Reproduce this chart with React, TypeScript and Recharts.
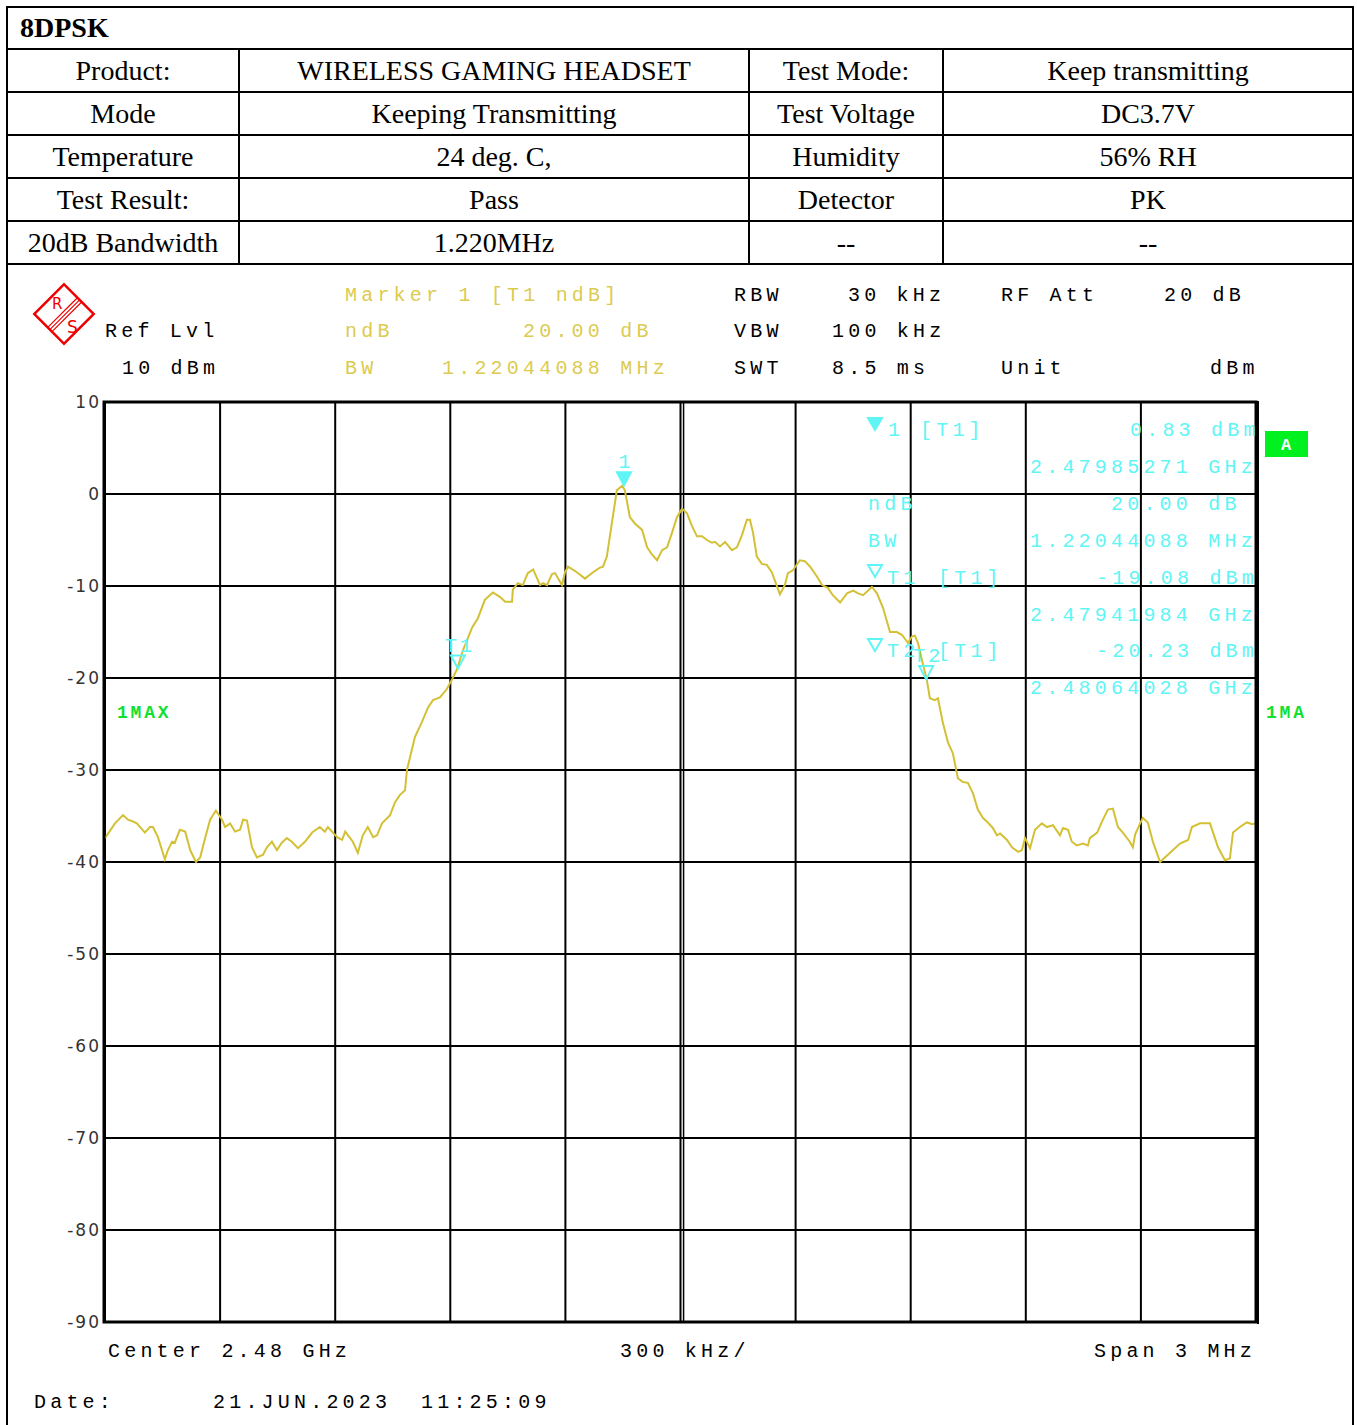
import React from "react";
import {
  ComposedChart,
  Line,
  Scatter,
  XAxis,
  YAxis,
  CartesianGrid,
  ReferenceLine,
} from "recharts";

const freqKHz = [
  -1500, -1474, -1453, -1440, -1427, -1417, -1396, -1383, -1375, -1362, -1344,
  -1336, -1325, -1318, -1305, -1291, -1278, -1263, -1252, -1239, -1226, -1211,
  -1195, -1187, -1174, -1161, -1148, -1140, -1130, -1117, -1104, -1088, -1078,
  -1065, -1052, -1039, -1026, -1013, -997, -979, -960, -940, -927, -919, -895,
  -882, -874, -861, -854, -841, -828, -815, -801, -791, -778, -757, -744, -731,
  -718, -713, -692, -674, -658, -645, -627, -609, -596, -583, -567, -543, -528,
  -510, -489, -470, -457, -439, -437, -424, -411, -398, -384, -366, -358, -348,
  -335, -327, -309, -301, -293, -270, -249, -228, -210, -202, -192, -179, -166,
  -152, -145, -132, -119, -100, -87, -74, -61, -48, -35, -22, -9, 4, 17, 30, 43,
  56, 69, 82, 90, 103, 116, 134, 147, 160, 173, 181, 189, 199, 212, 225, 238,
  252, 259, 272, 280, 293, 311, 324, 338, 356, 369, 384, 397, 416, 434, 450,
  463, 476, 499, 512, 528, 546, 564, 577, 593, 603, 611, 619, 629, 642, 650,
  663, 671, 684, 697, 710, 723, 736, 749, 762, 775, 788, 801, 814, 825, 833,
  851, 864, 880, 890, 898, 911, 924, 942, 955, 971, 989, 997, 1010, 1020, 1033,
  1049, 1062, 1067, 1086, 1101, 1114, 1127, 1140, 1153, 1171, 1179, 1185, 1198,
  1205, 1218, 1232, 1250, 1276, 1302, 1323, 1333, 1354, 1380, 1401, 1419, 1432,
  1440, 1458, 1476, 1490, 1500,
];
const levelDbm = [
  -37.4, -35.8, -34.9, -35.4, -35.6, -35.8, -36.8, -36.2, -36.2, -37.3, -39.7,
  -38.7, -37.8, -37.9, -36.5, -36.7, -38.7, -40.0, -39.5, -37.4, -35.4, -34.4,
  -35.4, -36.2, -35.8, -36.7, -36.5, -35.4, -35.5, -38.4, -39.5, -39.2, -38.4,
  -37.8, -38.7, -37.9, -37.4, -37.8, -38.5, -37.8, -36.8, -36.2, -36.7, -36.2,
  -37.3, -37.6, -36.7, -37.4, -37.8, -39.0, -37.1, -36.2, -37.3, -37.1, -35.8,
  -34.9, -33.5, -32.7, -32.2, -30.0, -26.4, -24.8, -23.2, -22.4, -22.1, -21.2,
  -20.2, -19.1, -17.0, -14.5, -13.5, -11.5, -10.7, -11.2, -11.7, -11.7, -10.4,
  -9.7, -9.9, -8.6, -8.2, -9.9, -9.7, -9.9, -8.7, -8.6, -9.9, -8.5, -7.9, -8.5,
  -9.2, -8.5, -8.0, -7.9, -6.8, -3.2, 0.4, 0.9, 0.4, -2.5, -3.2, -3.9, -5.8,
  -6.6, -7.2, -6.1, -5.8, -4.2, -2.5, -1.6, -2.1, -3.5, -4.6, -4.6, -5.0, -5.3,
  -5.2, -5.7, -5.2, -6.1, -5.8, -4.5, -2.8, -2.8, -4.2, -6.8, -7.6, -7.7, -8.5,
  -10.1, -10.9, -9.9, -8.6, -8.3, -7.2, -7.3, -7.9, -9.0, -9.9, -10.2, -11.0,
  -11.8, -10.8, -10.5, -10.8, -11.0, -10.1, -10.8, -12.4, -15.0, -15.0, -15.3,
  -16.2, -15.5, -15.4, -16.2, -18.0, -20.2, -22.2, -22.4, -22.2, -24.9, -27.0,
  -28.2, -30.9, -31.3, -31.4, -32.5, -34.3, -35.2, -35.7, -36.3, -37.1, -36.9,
  -37.6, -38.4, -38.9, -38.7, -37.4, -38.5, -36.5, -35.8, -36.2, -36.0, -37.1,
  -36.3, -36.5, -37.8, -38.2, -38.0, -38.2, -37.4, -36.8, -35.4, -34.3, -34.2,
  -36.2, -36.8, -37.8, -38.4, -37.0, -35.8, -35.2, -35.7, -37.9, -40.0, -39.0,
  -38.0, -37.6, -36.2, -35.8, -35.8, -38.4, -39.8, -39.6, -36.8, -36.2, -35.7,
  -35.9, -35.8,
];

// markers (kHz from center, dBm)
const markerNames = ["1", "T1", "T2"];
const markerFreqKHz = [-147.29, -580.16, 640.28];
const markerLevelDbm = [0.83, -19.08, -20.23];

const xTicks = [-1500, -1200, -900, -600, -300, 0, 300, 600, 900, 1200, 1500];
const yTicks = [10, 0, -10, -20, -30, -40, -50, -60, -70, -80, -90];

const tableRows = [
  ["Product:", "WIRELESS GAMING HEADSET", "Test Mode:", "Keep transmitting"],
  ["Mode", "Keeping Transmitting", "Test Voltage", "DC3.7V"],
  ["Temperature", "24 deg. C,", "Humidity", "56% RH"],
  ["Test Result:", "Pass", "Detector", "PK"],
  ["20dB Bandwidth", "1.220MHz", "--", "--"],
];
const colWidths = [232, 510, 194, 410];

const traceData = freqKHz.map((f, i) => ({ f, v: levelDbm[i] }));
const markerData = markerNames.map((n, i) => ({
  f: markerFreqKHz[i],
  v: markerLevelDbm[i],
  name: n,
}));

const TRACE = "#d4c035";
const HEAD_YELLOW = "#dccb50";
const CYAN = "#5ff5f5";
const GREEN = "#10e030";
const MONO = "'Liberation Mono', 'DejaVu Sans Mono', monospace";

const MarkerShape = (props: any) => {
  const { cx, cy, payload } = props;
  if (cx == null || cy == null) return null;
  const filled = payload.name === "1";
  const tip = cy - 1;
  return (
    <g>
      <polygon
        points={`${cx - 7},${tip - 13} ${cx + 7},${tip - 13} ${cx},${tip}`}
        fill={filled ? CYAN : "none"}
        stroke={CYAN}
        strokeWidth={2}
      />
      <text
        x={cx + 2}
        y={tip - 17}
        textAnchor="middle"
        fill={CYAN}
        fontFamily={MONO}
        fontSize={20}
        letterSpacing={3}
      >
        {payload.name}
      </text>
    </g>
  );
};

const T = ({
  x,
  y,
  c = "#000",
  children,
}: {
  x: number;
  y: number;
  c?: string;
  children: string;
}) => (
  <text
    x={x}
    y={y}
    fill={c}
    fontFamily={MONO}
    fontSize={20}
    letterSpacing={4.2}
    style={{ whiteSpace: "pre" }}
  >
    {children}
  </text>
);

const Triangle = ({ x, y, filled }: { x: number; y: number; filled?: boolean }) => (
  <polygon
    points={`${x - 7},${y - 6} ${x + 7},${y - 6} ${x},${y + 6}`}
    fill={filled ? CYAN : "none"}
    stroke={CYAN}
    strokeWidth={2}
  />
);

export default function App() {
  return (
    <div
      style={{
        position: "absolute",
        left: 0,
        top: 0,
        width: 1357,
        height: 1425,
        background: "#fff",
        overflow: "hidden",
      }}
    >
      <table
        style={{
          position: "absolute",
          left: 6,
          top: 6,
          borderCollapse: "collapse",
          fontFamily: "'Liberation Serif', 'Times New Roman', serif",
          fontSize: 28,
          tableLayout: "fixed",
          width: 1346,
        }}
      >
        <colgroup>
          {colWidths.map((w, i) => (
            <col key={i} style={{ width: w }} />
          ))}
        </colgroup>
        <tbody>
          <tr style={{ height: 42 }}>
            <td
              colSpan={4}
              style={{
                border: "2px solid #000",
                fontWeight: "bold",
                padding: "0 0 0 12px",
                lineHeight: "36px",
              }}
            >
              8DPSK
            </td>
          </tr>
          {tableRows.map((r, i) => (
            <tr key={i} style={{ height: 43 }}>
              {r.map((c, j) => (
                <td
                  key={j}
                  style={{
                    border: "2px solid #000",
                    textAlign: "center",
                    padding: 0,
                    lineHeight: "38px",
                  }}
                >
                  {c}
                </td>
              ))}
            </tr>
          ))}
        </tbody>
      </table>

      {/* frame around the analyzer screen */}
      <div
        style={{
          position: "absolute",
          left: 6,
          top: 262,
          width: 1344,
          height: 1200,
          borderLeft: "2px solid #000",
          borderRight: "2px solid #000",
        }}
      />

      <div style={{ position: "absolute", left: 0, top: 0 }}>
        <ComposedChart
          width={1357}
          height={1425}
          data={traceData}
          margin={{ top: 402, right: 101, bottom: 103, left: 45 }}
        >
          <CartesianGrid stroke="#000" strokeWidth={2} />
          <XAxis
            type="number"
            dataKey="f"
            domain={[-1500, 1500]}
            ticks={xTicks}
            hide
          />
          <YAxis
            type="number"
            domain={[-90, 10]}
            ticks={yTicks}
            width={60}
            axisLine={false}
            tickLine={false}
            tickSize={0}
            tickMargin={4}
            interval={0}
            tick={{
              fill: "#333",
              fontFamily: "'DejaVu Sans', sans-serif",
              fontSize: 17,
              letterSpacing: 2,
            }}
          />
          <ReferenceLine x={8} stroke="#000" strokeWidth={1.5} />
          <Line
            dataKey="v"
            type="linear"
            stroke={TRACE}
            strokeWidth={2}
            dot={false}
            isAnimationActive={false}
          />
          <Scatter
            data={markerData}
            dataKey="v"
            shape={MarkerShape}
            isAnimationActive={false}
          />
        </ComposedChart>
      </div>

      <svg
        width={1357}
        height={1425}
        style={{ position: "absolute", left: 0, top: 0, pointerEvents: "none" }}
      >
        {/* plot border */}
        <rect x={104} y={402} width={1152} height={920} fill="none" stroke="#000" strokeWidth={3} />
        <line x1={1258} y1={401} x2={1258} y2={1324} stroke="#000" strokeWidth={2} />

        {/* R&S logo */}
        <g transform="translate(64,314) rotate(45)">
          <rect x={-21} y={-21} width={42} height={42} fill="none" stroke="#e00" strokeWidth={2.5} />
          <line x1={-2} y1={-21} x2={-2} y2={21} stroke="#e00" strokeWidth={1.2} />
          <line x1={1} y1={-21} x2={1} y2={21} stroke="#e00" strokeWidth={1.2} />
          <line x1={4} y1={-21} x2={4} y2={21} stroke="#e00" strokeWidth={1.2} />
        </g>
        <text x={52} y={309} fill="#e00" fontFamily="'DejaVu Sans', sans-serif" fontSize={15}>R</text>
        <text x={67} y={333} fill="#e00" fontFamily="'DejaVu Sans', sans-serif" fontSize={17}>S</text>

        {/* header */}
        <T x={105} y={337}>Ref Lvl</T>
        <T x={122} y={374}>10 dBm</T>
        <T x={345} y={301} c={HEAD_YELLOW}>Marker 1 [T1 ndB]</T>
        <T x={345} y={337} c={HEAD_YELLOW}>ndB</T>
        <T x={523} y={337} c={HEAD_YELLOW}>20.00 dB</T>
        <T x={345} y={374} c={HEAD_YELLOW}>BW</T>
        <T x={442} y={374} c={HEAD_YELLOW}>1.22044088 MHz</T>
        <T x={734} y={301}>RBW</T>
        <T x={848} y={301}>30 kHz</T>
        <T x={1001} y={301}>RF Att</T>
        <T x={1164} y={301}>20 dB</T>
        <T x={734} y={337}>VBW</T>
        <T x={832} y={337}>100 kHz</T>
        <T x={734} y={374}>SWT</T>
        <T x={832} y={374}>8.5 ms</T>
        <T x={1001} y={374}>Unit</T>
        <T x={1210} y={374}>dBm</T>

        {/* marker info */}
        <Triangle x={875} y={424} filled />
        <T x={888} y={436} c={CYAN}>1</T>
        <T x={920} y={436} c={CYAN}>[T1]</T>
        <T x={1130} y={436} c={CYAN}>0.83 dBm</T>
        <T x={1030} y={473} c={CYAN}>2.47985271 GHz</T>
        <T x={868} y={510} c={CYAN}>ndB</T>
        <T x={1111} y={510} c={CYAN}>20.00 dB</T>
        <T x={868} y={547} c={CYAN}>BW</T>
        <T x={1030} y={547} c={CYAN}>1.22044088 MHz</T>
        <Triangle x={875} y={571} />
        <T x={887} y={584} c={CYAN}>T1</T>
        <T x={938} y={584} c={CYAN}>[T1]</T>
        <T x={1096} y={584} c={CYAN}>-19.08 dBm</T>
        <T x={1030} y={621} c={CYAN}>2.47941984 GHz</T>
        <Triangle x={875} y={645} />
        <T x={887} y={657} c={CYAN}>T2</T>
        <T x={938} y={657} c={CYAN}>[T1]</T>
        <T x={1096} y={657} c={CYAN}>-20.23 dBm</T>
        <T x={1030} y={694} c={CYAN}>2.48064028 GHz</T>

        {/* side labels */}
        <rect x={1265} y={431} width={43} height={26} fill="#00f020" />
        <text x={1286} y={450} textAnchor="middle" fill="#fff" fontFamily={MONO} fontSize={17} fontWeight="bold">A</text>
        <text x={117} y={718} fill={GREEN} fontFamily={MONO} fontSize={18} fontWeight="bold" letterSpacing={2.8}>1MAX</text>
        <text x={1266} y={718} fill={GREEN} fontFamily={MONO} fontSize={18} fontWeight="bold" letterSpacing={2.8}>1MA</text>

        {/* footer */}
        <T x={108} y={1357}>Center 2.48 GHz</T>
        <T x={620} y={1357}>300 kHz/</T>
        <T x={1094} y={1357}>Span 3 MHz</T>
        <T x={34} y={1408}>Date:</T>
        <T x={213} y={1408}>21.JUN.2023</T>
        <T x={421} y={1408}>11:25:09</T>
      </svg>
    </div>
  );
}
